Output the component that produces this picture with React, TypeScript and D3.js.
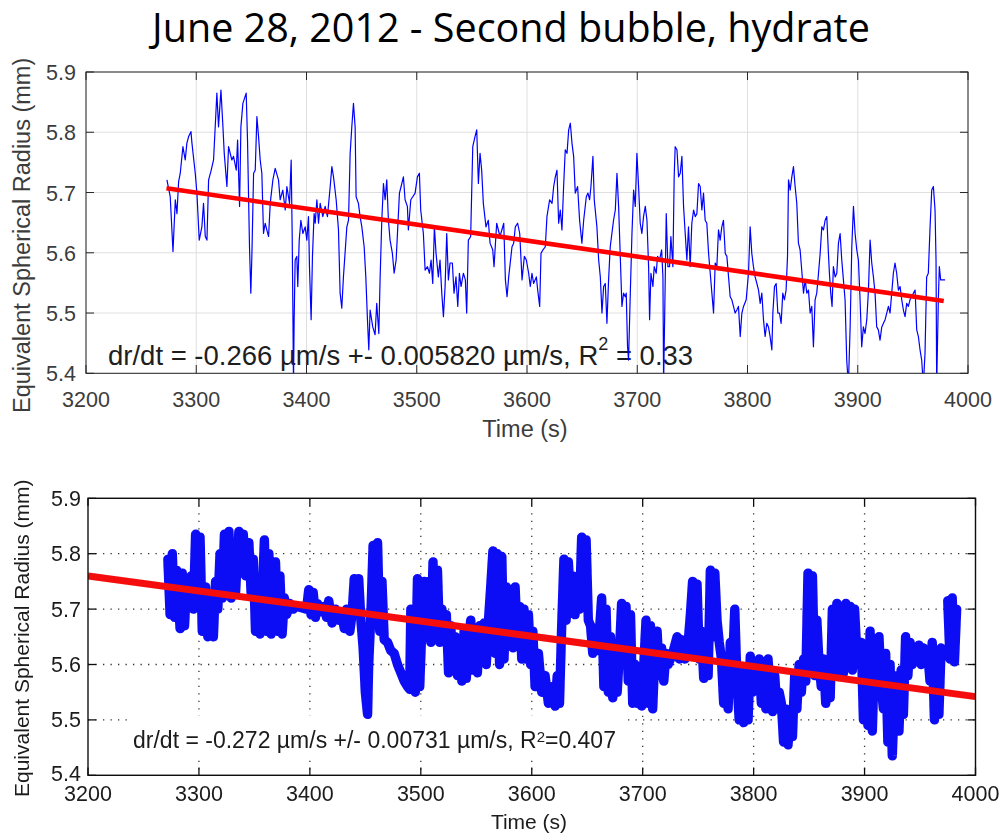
import React from "react";
import * as d3 from "d3";

const titleText = "June 28, 2012 - Second bubble, hydrate";
const yAxisLabel = "Equivalent Spherical Radius (mm)";
const xAxisLabel = "Time (s)";
const timeTicks = [3200, 3300, 3400, 3500, 3600, 3700, 3800, 3900, 4000];
const radiusTicks = [5.4, 5.5, 5.6, 5.7, 5.8, 5.9];

// Upper panel: radius trace (s, mm)
const topTime = [
  3273.4, 3276.4, 3278.9, 3281.0, 3282.5, 3284.0, 3285.5, 3287.9, 3290.0, 3291.5, 3293.1, 3295.2, 3296.1, 3299.1, 3300.6, 3302.7, 3305.1, 3306.6, 3308.2, 3309.7,
  3311.2, 3313.3, 3315.7, 3317.8, 3318.7, 3320.2, 3322.4, 3324.2, 3325.4, 3327.8, 3329.3, 3332.3, 3333.8, 3336.3, 3337.5, 3339.3, 3340.5, 3342.3, 3345.3, 3346.5,
  3348.3, 3349.5, 3350.5, 3352.0, 3353.5, 3355.0, 3356.5, 3358.0, 3359.5, 3361.0, 3362.5, 3364.0, 3365.6, 3367.1, 3369.5, 3371.6, 3374.6, 3376.1, 3378.5, 3380.7,
  3382.2, 3384.6, 3386.1, 3387.0, 3387.6, 3388.2, 3388.8, 3389.7, 3391.2, 3392.1, 3393.4, 3394.9, 3396.7, 3398.8, 3400.3, 3401.8, 3402.7, 3404.2, 3405.4, 3406.9,
  3407.9, 3409.4, 3410.9, 3412.4, 3414.8, 3416.9, 3419.0, 3421.5, 3423.0, 3424.5, 3426.9, 3429.0, 3430.5, 3432.0, 3433.5, 3436.6, 3438.1, 3439.6, 3441.1, 3442.6,
  3444.1, 3445.0, 3447.1, 3448.6, 3450.2, 3452.3, 3453.8, 3455.3, 3456.5, 3457.7, 3460.1, 3462.2, 3463.7, 3465.6, 3466.8, 3468.3, 3469.8, 3471.3, 3472.8, 3474.3,
  3475.8, 3477.9, 3479.5, 3481.3, 3482.5, 3484.3, 3485.8, 3487.9, 3489.4, 3491.5, 3492.4, 3494.6, 3496.4, 3498.5, 3500.6, 3502.4, 3503.6, 3506.0, 3507.6, 3509.7,
  3511.5, 3513.0, 3514.5, 3516.0, 3517.5, 3519.6, 3521.1, 3522.7, 3524.2, 3525.7, 3527.2, 3528.7, 3530.2, 3532.3, 3533.8, 3535.6, 3537.2, 3538.7, 3540.2, 3542.3,
  3544.1, 3545.3, 3546.8, 3548.9, 3550.8, 3552.9, 3554.4, 3555.9, 3557.4, 3558.9, 3560.4, 3562.8, 3564.9, 3566.5, 3568.9, 3570.1, 3572.5, 3575.5,
  3578.9, 3580.4, 3581.9, 3583.4, 3586.4, 3587.9, 3589.4, 3591.5, 3593.4, 3595.5, 3597.6, 3599.4, 3601.5, 3603.0, 3604.5, 3606.0, 3608.5, 3609.7, 3611.5, 3612.7,
  3614.5, 3616.6, 3618.1, 3620.5, 3622.7, 3624.2, 3625.7, 3627.2, 3628.7, 3630.2, 3631.7, 3633.2, 3634.7, 3636.3, 3637.8, 3639.3, 3640.8, 3642.3, 3643.8, 3645.9,
  3647.7, 3649.8, 3651.4, 3653.8, 3655.3, 3656.8, 3658.0, 3659.8, 3661.0, 3663.4, 3665.0, 3666.5, 3668.0, 3669.5, 3671.0, 3672.5, 3674.0, 3675.5, 3677.0, 3678.5,
  3680.1, 3681.6, 3683.1, 3684.6, 3686.1, 3687.6, 3689.1, 3690.0, 3691.2, 3692.1, 3693.7, 3695.2, 3696.7, 3698.2, 3699.7, 3701.2, 3702.7, 3704.2, 3705.7, 3707.3,
  3708.8, 3710.3, 3711.2, 3712.4, 3714.2, 3715.4, 3717.2, 3718.4, 3720.2, 3722.1, 3723.3, 3723.9, 3725.1, 3726.3, 3727.8, 3729.3, 3730.5, 3732.3, 3733.5, 3734.4,
  3736.0, 3737.5, 3739.0, 3740.5, 3742.0, 3743.5, 3745.0, 3746.5, 3748.0, 3749.5, 3751.1, 3752.6, 3754.1, 3755.6, 3757.1, 3758.6, 3760.1, 3761.6, 3763.1, 3764.7,
  3766.2, 3767.7, 3769.2, 3770.7, 3772.2, 3773.7, 3775.2, 3776.7, 3778.2, 3779.8, 3781.3, 3782.8, 3784.3, 3785.8, 3787.3, 3788.8, 3790.3, 3791.8, 3793.4, 3794.9,
  3796.4, 3798.8, 3800.9, 3802.4, 3803.9, 3805.4, 3806.9, 3808.5, 3810.0, 3811.5, 3813.0, 3814.5, 3816.0, 3817.5, 3819.0, 3820.5, 3822.1, 3823.0, 3824.5, 3826.0,
  3827.5, 3829.0, 3830.5, 3832.0, 3833.5, 3835.0, 3836.3, 3837.2, 3838.7, 3840.2, 3841.7, 3843.2, 3844.7, 3846.2, 3847.7, 3849.2, 3850.8, 3852.3, 3853.8, 3855.3,
  3856.8, 3858.3, 3859.8, 3861.3, 3862.8, 3864.4, 3865.9, 3867.4, 3868.9, 3870.4, 3871.9, 3873.4, 3874.3, 3875.5, 3876.7, 3877.9, 3879.5, 3881.0, 3882.5, 3884.0,
  3885.5, 3887.0, 3888.5, 3890.0, 3891.5, 3893.1, 3894.6, 3896.1, 3897.6, 3899.1, 3900.6, 3902.1, 3903.6, 3905.1, 3906.6, 3908.2, 3909.7, 3911.2, 3912.7, 3914.2,
  3915.7, 3917.2, 3918.7, 3920.2, 3921.8, 3923.3, 3924.8, 3926.3, 3927.8, 3929.3, 3930.8, 3932.3, 3933.8, 3935.3, 3936.9, 3938.4, 3939.9, 3941.4, 3942.9, 3944.4,
  3945.9, 3947.4, 3950.5, 3952.0, 3953.5, 3955.0, 3956.5, 3958.0, 3959.5, 3961.0, 3962.5, 3964.0, 3965.6, 3967.1, 3968.6, 3970.1, 3971.0, 3971.6, 3973.1, 3974.0,
  3975.2, 3977.6, 3979.2,
];
const topRadius = [
  5.721, 5.693, 5.602, 5.688, 5.665, 5.718, 5.732, 5.776, 5.754, 5.782, 5.793, 5.801, 5.782, 5.732, 5.699, 5.621, 5.643, 5.682, 5.627, 5.621,
  5.721, 5.735, 5.754, 5.831, 5.865, 5.809, 5.870, 5.809, 5.765, 5.710, 5.776, 5.754, 5.760, 5.737, 5.787, 5.677, 5.809, 5.848, 5.865, 5.787,
  5.610, 5.533, 5.599, 5.732, 5.737, 5.826, 5.793, 5.754, 5.732, 5.632, 5.649, 5.638, 5.627, 5.682, 5.721, 5.740, 5.721, 5.688, 5.704, 5.671,
  5.710, 5.682, 5.754, 5.632, 5.516, 5.380, 5.489, 5.588, 5.594, 5.544, 5.621, 5.654, 5.632, 5.643, 5.621, 5.660, 5.577, 5.489, 5.594, 5.665,
  5.649, 5.688, 5.649, 5.682, 5.660, 5.677, 5.660, 5.710, 5.743, 5.726, 5.688, 5.638, 5.533, 5.508, 5.560, 5.643, 5.654, 5.765, 5.809, 5.848,
  5.809, 5.693, 5.682, 5.660, 5.643, 5.610, 5.560, 5.489, 5.439, 5.505, 5.477, 5.464, 5.516, 5.466, 5.560, 5.654, 5.715, 5.688, 5.721, 5.654,
  5.621, 5.599, 5.566, 5.588, 5.632, 5.699, 5.710, 5.726, 5.688, 5.677, 5.638, 5.688, 5.693, 5.699, 5.726, 5.732, 5.671, 5.632, 5.571, 5.577,
  5.566, 5.588, 5.549, 5.643, 5.599, 5.560, 5.588, 5.533, 5.494, 5.544, 5.632, 5.555, 5.583, 5.583, 5.533, 5.560, 5.511, 5.566, 5.544, 5.566,
  5.555, 5.500, 5.621, 5.627, 5.776, 5.793, 5.804, 5.715, 5.765, 5.737, 5.682, 5.643, 5.654, 5.616, 5.605, 5.577, 5.649, 5.627,
  5.649, 5.555, 5.527, 5.560, 5.610, 5.616, 5.643, 5.649, 5.632, 5.555, 5.594, 5.588, 5.566, 5.544, 5.566, 5.549, 5.560, 5.538, 5.511, 5.599,
  5.605, 5.610, 5.660, 5.688, 5.682, 5.710, 5.726, 5.737, 5.649, 5.671, 5.638, 5.710, 5.771, 5.765, 5.804, 5.815, 5.782, 5.760, 5.699, 5.710,
  5.654, 5.616, 5.654, 5.693, 5.699, 5.688, 5.710, 5.760, 5.688, 5.643, 5.588, 5.560, 5.500, 5.544, 5.549, 5.483, 5.555, 5.610, 5.632, 5.654,
  5.671, 5.732, 5.677, 5.594, 5.511, 5.533, 5.527, 5.533, 5.444, 5.422, 5.533, 5.632, 5.704, 5.677, 5.765, 5.710, 5.649, 5.632, 5.660, 5.677,
  5.654, 5.577, 5.489, 5.566, 5.544, 5.577, 5.566, 5.594, 5.588, 5.605, 5.560, 5.380, 5.522, 5.665, 5.577, 5.577, 5.627, 5.577, 5.726, 5.776,
  5.771, 5.726, 5.732, 5.760, 5.677, 5.632, 5.588, 5.643, 5.577, 5.649, 5.671, 5.660, 5.665, 5.715, 5.710, 5.671, 5.699, 5.654, 5.649, 5.599,
  5.566, 5.533, 5.500, 5.583, 5.577, 5.638, 5.621, 5.643, 5.654, 5.599, 5.594, 5.560, 5.527, 5.522, 5.511, 5.500, 5.505, 5.511, 5.461, 5.500,
  5.511, 5.522, 5.566, 5.643, 5.599, 5.577, 5.560, 5.549, 5.538, 5.516, 5.533, 5.489, 5.461, 5.483, 5.477, 5.461, 5.439, 5.500, 5.544, 5.549,
  5.500, 5.500, 5.483, 5.533, 5.522, 5.538, 5.594, 5.721, 5.704, 5.726, 5.743, 5.710, 5.682, 5.616, 5.605, 5.571, 5.533, 5.555, 5.533, 5.538,
  5.500, 5.511, 5.444, 5.522, 5.533, 5.566, 5.599, 5.643, 5.638, 5.654, 5.660, 5.599, 5.566, 5.533, 5.511, 5.577, 5.560, 5.566, 5.616, 5.632,
  5.588, 5.555, 5.522, 5.422, 5.380, 5.477, 5.610, 5.677, 5.632, 5.605, 5.588, 5.522, 5.444, 5.477, 5.466, 5.489, 5.538, 5.621, 5.583, 5.560,
  5.533, 5.477, 5.472, 5.455, 5.477, 5.483, 5.489, 5.500, 5.511, 5.500, 5.533, 5.566, 5.583, 5.566, 5.538, 5.544, 5.522, 5.505, 5.494, 5.516,
  5.511, 5.522, 5.533, 5.538, 5.472, 5.461, 5.439, 5.422, 5.380, 5.433, 5.560, 5.566, 5.643, 5.704, 5.710, 5.671, 5.588, 5.380, 5.522, 5.577,
  5.555, 5.555, 5.555,
];
const topFitTime = [3273, 3978];
const topFitRadius = [5.707, 5.52];

// Lower panel: radius samples (s, mm); null marks a break in the record
const bottomTime = [
  3272, 3274, 3276, 3278, 3280, 3283, 3285, 3287, 3289, 3291, 3293, 3295, 3297, 3299, 3301, 3303, 3306, 3308, 3311, 3313,
  3315, 3317, 3319, 3321, 3323, 3325, 3327, 3329, 3331, 3333, 3336, 3338, 3340, 3342, 3345, 3347, 3349, 3351, 3353, 3355,
  3357, 3359, 3361, 3363, 3365, 3367, 3369, 3371, 3373, 3375, 3377, 3379, 3382, 3385, 3388, 3397, 3399, 3401, 3403, 3405,
  3407, 3410, 3413, 3415, 3417, 3420, 3423, 3426, 3429, 3431, 3433, 3436, 3438, 3440, 3442, 3444, 3446, 3448, 3450, 3452,
  3453, 3455, 3457, 3459, 3461, 3463, 3465, 3467, 3470, 3473, 3476, 3479, 3482, 3485, 3488, 3490, 3491, 3493, 3495, 3497,
  3499, 3501, 3503, 3505, 3507, 3509, 3511, 3513, 3515, 3517, 3519, 3521, 3523, 3525, 3527, 3529, 3531, 3533, 3535, 3537,
  3539, 3541, 3543, 3545, 3547, 3549, 3551, 3553, 3555, 3557, 3559, 3561, 3563, 3565, 3567, 3569, 3571, 3573, 3575, 3577,
  3579, 3581, 3583, 3585, 3587, 3589, 3591, 3593, 3595, 3597, 3599, 3601, 3603, 3606, 3609, 3612, 3615, 3618, 3621, 3623,
  3625, 3627, 3629, 3631, 3633, 3635, 3637, 3639, 3641, 3643, 3645, 3647, 3649, 3651, 3653, 3655, 3657, 3659, 3661, 3663,
  3665, 3667, 3669, 3671, 3673, 3675, 3677, 3679, 3681, 3683, 3685, 3687, 3689, 3691, 3693, 3695, 3697, 3699, 3701, 3703,
  3705, 3707, 3709, 3711, 3713, 3715, 3717, 3719, 3721, 3723, 3727, 3731, 3733, 3735, 3738, 3741, 3743, 3745, 3747, 3749,
  3751, 3753, 3755, 3757, 3759, 3761, 3763, 3765, 3767, 3769, 3771, 3773, 3775, 3777, 3779, 3781, 3783, 3785, 3787, 3789,
  3791, 3793, 3795, 3797, 3799, 3801, 3803, 3805, 3807, 3809, 3811, 3813, 3815, 3817, 3819, 3821, 3823, 3825, 3827, 3829,
  3831, 3833, 3835, 3837, 3839, 3841, 3843, 3845, 3847, 3849, 3851, 3853, 3855, 3857, 3859, 3861, 3863, 3865, 3867, 3869,
  3871, 3873, 3875, 3877, 3879, 3881, 3883, 3885, 3887, 3889, 3891, 3893, 3895, 3897, 3899, 3901, 3903, 3905, 3907, 3909,
  3911, 3913, 3915, 3917, 3919, 3921, 3923, 3925, 3927, 3929, 3931, 3933, 3935, 3937, 3939, 3941, 3943, 3945, 3947, 3949,
  3951, 3953, 3955, 3957, 3959, 3961, 3963, 3965, 3967, 3969, 3971, 3975, 3977, 3979, 3981, 3983,
];
const bottomRadius: (number | null)[] = [
  5.79, 5.69, 5.8, 5.685, 5.77, 5.665, 5.765, 5.67, 5.75, 5.71, 5.76, 5.7, 5.835, 5.72, 5.83, 5.66, 5.74, 5.65, 5.7, 5.65,
  5.75, 5.7, 5.8, 5.72, 5.835, 5.74, 5.84, 5.72, 5.81, 5.73, 5.84, 5.78, 5.835, 5.76, 5.82, 5.73, 5.79, 5.66, 5.74, 5.655,
  5.72, 5.825, 5.66, 5.8, 5.655, 5.7, 5.785, 5.66, 5.76, 5.655, 5.72, 5.69, 5.71, 5.7, 5.705, 5.7, 5.735, 5.69, 5.73, 5.685,
  5.71, 5.695, 5.705, 5.685, 5.715, 5.675, 5.7, 5.68, 5.69, 5.665, 5.7, 5.66, 5.69, 5.755, 5.7, 5.755, 5.68, 5.63, 5.55, 5.51,
  5.6, 5.69, 5.815, 5.7, 5.82, 5.66, 5.75, 5.645, 5.64, 5.625, 5.62, 5.6, 5.585, 5.57, 5.56, 5.555, 5.7, 5.56, 5.55, 5.755,
  5.56, 5.67, 5.75, 5.66, 5.75, 5.64, 5.785, 5.65, 5.77, 5.64, 5.7, 5.66, 5.69, 5.585, 5.67, 5.6, 5.65, 5.58, 5.63, 5.57,
  5.66, 5.575, 5.64, 5.68, 5.59, 5.66, 5.585, 5.67, 5.61, 5.675, 5.6, 5.68, 5.74, 5.805, 5.62, 5.8, 5.6, 5.795, 5.61, 5.74,
  5.64, 5.73, 5.63, 5.74, 5.64, 5.705, 5.61, 5.7, 5.61, 5.69, 5.6, 5.66, 5.56, 5.62, 5.55, 5.58, 5.53, 5.56, 5.525, 5.58,
  5.53, 5.67, 5.79, 5.68, 5.785, 5.71, 5.76, 5.69, 5.75, 5.7, 5.83, 5.72, 5.825, 5.68, 5.67, 5.62, 5.665, 5.625, 5.66, 5.72,
  5.56, 5.7, 5.55, 5.65, 5.54, 5.62, 5.55, 5.62, 5.71, 5.6, 5.705, 5.57, 5.69, 5.53, 5.6, 5.53, 5.58, 5.525, 5.6, 5.68,
  5.53, 5.67, 5.52, 5.62, 5.66, 5.58, 5.63, 5.57, 5.62, 5.6, 5.62, 5.65, 5.61, 5.645, 5.61, 5.64, 5.69, 5.75, 5.62, 5.745,
  5.61, 5.66, 5.575, 5.64, 5.58, 5.77, 5.65, 5.765, 5.68, 5.64, 5.61, 5.53, 5.6, 5.52, 5.64, 5.6, 5.7, 5.57, 5.5, 5.56,
  5.495, 5.59, 5.5, 5.615, 5.55, 5.6, 5.57, 5.61, 5.53, 5.605, 5.52, 5.61, 5.55, 5.515, 5.58, 5.52, 5.55, 5.53, 5.46, 5.52,
  5.455, 5.51, 5.47, 5.58, 5.52, 5.6, 5.55, 5.61, 5.57, 5.765, 5.61, 5.76, 5.58, 5.68, 5.6, 5.56, 5.61, 5.53, 5.58, 5.54,
  5.7, 5.6, 5.71, 5.58, 5.7, 5.585, 5.71, 5.6, 5.705, 5.59, 5.7, 5.62, 5.6, 5.64, 5.5, 5.62, 5.49, 5.66, 5.48, 5.62,
  5.55, 5.65, 5.56, 5.52, 5.62, 5.46, 5.6, 5.435, 5.55, 5.58, 5.48, 5.59, 5.51, 5.65, 5.58, 5.64, 5.6, 5.625, 5.61, 5.635,
  5.6, 5.63, 5.61, 5.62, 5.57, 5.64, 5.5, 5.62, 5.51, 5.63, null, 5.715, 5.61, 5.72, 5.605, 5.7,
];
const bottomFitTime = [3200, 4000];
const bottomFitRadius = [5.76, 5.542];

const helv = "'Liberation Sans', Arial, Helvetica, sans-serif";

export default function App() {
  const W = 1003;
  const H = 837;

  // ---------- upper panel ----------
  const tx = d3.scaleLinear().domain([3200, 4000]).range([86, 968]);
  const ty = d3.scaleLinear().domain([5.4, 5.9]).range([373.3, 72]);
  const topPts: [number, number][] = topTime.map((t, i) => [t, topRadius[i]]);
  const topLine = d3
    .line<[number, number]>()
    .x((d) => tx(d[0]))
    .y((d) => ty(d[1]));
  const topFit: [number, number][] = topFitTime.map((t, i) => [t, topFitRadius[i]]);

  // ---------- lower panel ----------
  const bx = d3.scaleLinear().domain([3200, 4000]).range([88, 975.5]);
  const by = d3.scaleLinear().domain([5.4, 5.9]).range([775.3, 498.3]);
  const botPts: [number, number | null][] = bottomTime.map((t, i) => [t, bottomRadius[i]]);
  const botLine = d3
    .line<[number, number | null]>()
    .defined((d) => d[1] != null)
    .x((d) => bx(d[0]))
    .y((d) => by(d[1] as number));
  const botFit: [number, number][] = bottomFitTime.map((t, i) => [t, bottomFitRadius[i]]);
  const botFitLine = d3
    .line<[number, number]>()
    .x((d) => bx(d[0]))
    .y((d) => by(d[1]));

  const tAxis = "#262626";
  const tLabel = "#3c3c3c";

  return (
    <svg
      width={W}
      height={H}
      viewBox={`0 0 ${W} ${H}`}
      style={{ position: "absolute", left: 0, top: 0, background: "#fff" }}
    >
      <defs>
        <clipPath id="topClip">
          <rect x={86} y={72} width={882} height={301.3} />
        </clipPath>
        <clipPath id="botClip">
          <rect x={88} y={498.3} width={887.5} height={277} />
        </clipPath>
        <filter id="soft" x="-5%" y="-5%" width="110%" height="110%">
          <feGaussianBlur stdDeviation="0.55" />
        </filter>
      </defs>
      <rect x={0} y={0} width={W} height={H} fill="#fff" />

      {/* title */}
      <text
        x={511}
        y={42}
        textAnchor="middle"
        fontFamily="'Open Sans', 'Noto Sans', sans-serif"
        fontSize={39.5}
        fill="#000"
      >
        {titleText}
      </text>

      {/* ===== upper panel ===== */}
      <g fontFamily={helv}>
        {timeTicks.map((t) => (
          <line key={"tgx" + t} x1={tx(t)} x2={tx(t)} y1={72} y2={373.3} stroke="#dfdfdf" strokeWidth={1} />
        ))}
        {radiusTicks.map((r) => (
          <line key={"tgy" + r} x1={86} x2={968} y1={ty(r)} y2={ty(r)} stroke="#dfdfdf" strokeWidth={1} />
        ))}

        <text x={108} y={365} fontSize={27.5} fill="#1e1e1e">
          <tspan>dr/dt = -0.266 µm/s +- 0.005820 µm/s, R</tspan>
          <tspan dy={-15} fontSize={18}>2</tspan>
          <tspan dy={15}> = 0.33</tspan>
        </text>

        <g clipPath="url(#topClip)">
          <path d={topLine(topPts) || ""} fill="none" stroke="#0000ff" strokeWidth={1.2} strokeLinejoin="round" />
          <path d={topLine(topFit) || ""} fill="none" stroke="#ff0000" strokeWidth={4.6} />
        </g>

        <rect x={86} y={72} width={882} height={301.3} fill="none" stroke={tAxis} strokeWidth={1} />
        {timeTicks.map((t) => (
          <g key={"ttk" + t}>
            <line x1={tx(t)} x2={tx(t)} y1={373.3} y2={365} stroke={tAxis} />
            <line x1={tx(t)} x2={tx(t)} y1={72} y2={80} stroke={tAxis} />
            <text x={tx(t)} y={406.5} textAnchor="middle" fontSize={21.5} fill={tLabel}>
              {t}
            </text>
          </g>
        ))}
        {radiusTicks.map((r) => (
          <g key={"rtk" + r}>
            <line x1={86} x2={94} y1={ty(r)} y2={ty(r)} stroke={tAxis} />
            <line x1={968} x2={960} y1={ty(r)} y2={ty(r)} stroke={tAxis} />
            <text x={76} y={ty(r) + 8} textAnchor="end" fontSize={21.5} fill={tLabel}>
              {r.toFixed(1)}
            </text>
          </g>
        ))}
        <text x={525} y={437} textAnchor="middle" fontSize={23.5} fill={tLabel}>
          {xAxisLabel}
        </text>
        <text transform="translate(30,413) rotate(-90)" textAnchor="start" fontSize={23.5} fill={tLabel}>
          {yAxisLabel}
        </text>
      </g>

      {/* ===== lower panel ===== */}
      <g fontFamily={helv} filter="url(#soft)">
        {timeTicks.slice(1, -1).map((t) => (
          <line
            key={"bgx" + t}
            x1={bx(t)}
            x2={bx(t)}
            y1={498.3}
            y2={775.3}
            stroke="#333"
            strokeWidth={1.3}
            strokeDasharray="1.3,6.2"
          />
        ))}
        {radiusTicks.slice(1, -1).map((r) => (
          <line
            key={"bgy" + r}
            x1={88}
            x2={975.5}
            y1={by(r)}
            y2={by(r)}
            stroke="#333"
            strokeWidth={1.3}
            strokeDasharray="1.3,6.2"
          />
        ))}

        <rect x={129} y={716} width={499} height={42} fill="#fff" />
        <text x={133} y={748} fontSize={23} fill="#1a1a1a">
          <tspan>dr/dt = -0.272 µm/s +/- 0.00731 µm/s, R</tspan>
          <tspan dy={-6} fontSize={15}>2</tspan>
          <tspan dy={6}>=0.407</tspan>
        </text>

        <g clipPath="url(#botClip)">
          <path
            d={botLine(botPts) || ""}
            fill="none"
            stroke="#0a0af5"
            strokeWidth={9.4}
            strokeLinejoin="round"
            strokeLinecap="round"
          />
          <path d={botFitLine(botFit) || ""} fill="none" stroke="#f50a0a" strokeWidth={7} />
        </g>

        <rect x={88} y={498.3} width={887.5} height={277} fill="none" stroke="#111" strokeWidth={1.4} />
        {timeTicks.map((t) => (
          <g key={"btk" + t}>
            <line x1={bx(t)} x2={bx(t)} y1={775.3} y2={767.5} stroke="#111" strokeWidth={1.3} />
            <line x1={bx(t)} x2={bx(t)} y1={498.3} y2={506} stroke="#111" strokeWidth={1.3} />
            <text x={bx(t)} y={801} textAnchor="middle" fontSize={21.5} fill="#1a1a1a">
              {t}
            </text>
          </g>
        ))}
        {radiusTicks.map((r) => (
          <g key={"brk" + r}>
            <line x1={88} x2={96} y1={by(r)} y2={by(r)} stroke="#111" strokeWidth={1.3} />
            <line x1={975.5} x2={967.5} y1={by(r)} y2={by(r)} stroke="#111" strokeWidth={1.3} />
            <text x={81} y={by(r) + (r === 5.4 ? 5.5 : 7.5)} textAnchor="end" fontSize={21.5} fill="#1a1a1a">
              {r.toFixed(1)}
            </text>
          </g>
        ))}
        <text x={529} y={829} textAnchor="middle" fontSize={21} fill="#1a1a1a">
          {xAxisLabel}
        </text>
        <text transform="translate(29,797) rotate(-90)" textAnchor="start" fontSize={21} fill="#1a1a1a">
          {yAxisLabel}
        </text>
      </g>
    </svg>
  );
}
